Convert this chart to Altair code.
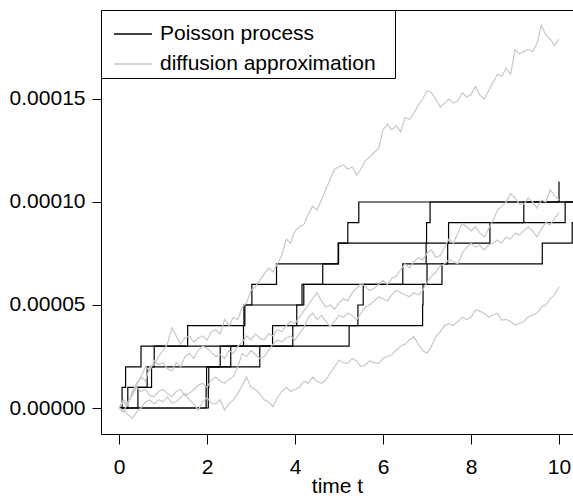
import altair as alt
import pandas as pd

UNIT = 1e-5  # size of one Poisson jump

# Poisson process sample paths: jump times (each jump adds UNIT)
jumps_a = [0.07, 0.15, 0.50, 1.56, 2.84, 3.02, 3.58, 4.98, 5.20, 5.45, 10.00]
jumps_b = [0.20, 0.64, 0.80, 2.83, 2.86, 4.16, 4.63, 4.99, 6.99, 7.07]
jumps_c = [0.43, 0.74, 3.20, 5.23, 6.90, 6.91, 7.34, 9.62, 10.30]
jumps_d = [1.98, 1.99, 2.30, 3.49, 4.04, 4.20, 6.45, 6.98, 7.49, 9.20]
jumps_e = [2.03, 2.04, 2.54, 3.95, 5.43, 5.55, 7.00, 7.47, 8.43, 10.14]
path_end = [10.00, 10.60, 10.60, 10.60, 10.60]

# diffusion approximation paths, in units of 1e-5, sampled every 0.1 time units
diff_t = [round(0.1 * i, 1) for i in range(101)]
diff_1 = [0.0, 0.3, 0.1, 0.8, 1.2, 1.5, 1.3, 2.0, 2.1, 2.5,
          2.8, 3.1, 3.9, 3.5, 3.1, 3.4, 3.5, 3.2, 3.4, 3.5,
          3.3, 3.7, 3.8, 3.6, 4.3, 4.0, 4.4, 4.3, 4.9, 5.1,
          5.7, 5.9, 6.2, 6.5, 6.8, 6.6, 7.0, 7.4, 8.2, 8.0,
          8.6, 8.8, 8.9, 9.4, 9.8, 9.6, 10.1, 10.6, 11.1, 11.6,
          11.7, 11.8, 11.6, 11.7, 11.3, 11.6, 12.0, 12.2, 12.4, 12.6,
          13.5, 13.8, 13.5, 13.7, 13.4, 14.1, 14.0, 14.3, 14.7, 15.0,
          15.4, 15.3, 15.0, 14.6, 14.8, 15.0, 14.8, 14.9, 15.3, 15.1,
          15.2, 15.6, 15.2, 15.0, 15.4, 15.8, 16.2, 16.1, 16.5, 16.2,
          17.4, 17.2, 17.3, 17.4, 17.3, 17.7, 18.6, 18.1, 17.9, 17.6,
          17.9]
diff_2 = [0.0, 0.4, 0.2, 0.7, 1.1, 1.5, 2.0, 1.8, 2.3, 2.1,
          2.2, 1.9, 1.8, 2.2, 2.0, 2.5, 2.65, 2.4, 2.8, 3.0,
          2.9, 2.7, 2.5, 2.6, 2.4, 2.8, 2.65, 3.0, 3.2, 3.5,
          3.3, 3.6, 3.4, 3.3, 3.6, 3.5, 3.8, 3.7, 4.0, 4.2,
          4.1, 4.4, 4.7, 5.0, 5.3, 5.6, 5.2, 4.9, 5.0, 4.8,
          5.1, 5.3, 5.2, 5.6, 5.8, 6.05, 5.9, 5.7, 5.8, 6.0,
          6.2, 6.0, 6.3, 6.4, 6.7, 7.0, 6.8, 7.1, 7.3, 7.2,
          7.5, 7.67, 7.3, 7.4, 7.8, 8.2, 8.0, 8.5, 8.96, 8.8,
          8.6, 8.8, 8.5, 8.3, 8.7, 9.1, 9.6, 9.8, 10.0, 10.4,
          10.2, 9.9, 9.9, 10.2, 10.0, 9.7, 10.1, 10.0, 10.6, 10.3,
          10.1]
diff_3 = [0.0, -0.2, 0.3, 0.6, 1.0, 0.8, 0.9, 0.6, 0.55, 0.8,
          0.9, 0.7, 0.55, 0.8, 0.9, 0.6, 0.71, 0.9, 1.1, 1.2,
          1.0, 1.36, 1.5, 1.3, 1.2, 1.4, 1.52, 2.0, 2.65, 2.5,
          2.8, 2.6, 2.4, 2.5, 2.8, 3.1, 3.3, 3.2, 3.4, 3.5,
          3.3, 3.6, 3.9, 4.4, 4.6, 4.3, 4.5, 4.2, 3.95, 4.2,
          4.5, 4.4, 4.6, 4.5, 4.27, 4.6, 4.9, 5.0, 5.2, 5.4,
          5.3, 5.2, 5.5, 5.7, 5.6, 5.5, 5.4, 5.6, 5.5, 5.7,
          6.1, 6.4, 6.6, 6.9, 7.0, 7.2, 7.1, 7.0, 7.5, 7.8,
          8.0, 7.8, 7.9, 7.67, 7.9, 8.0, 8.16, 8.0, 8.3, 8.2,
          8.5, 8.4, 8.6, 8.8, 8.6, 8.3, 8.7, 9.0, 8.9, 9.2,
          9.5]
diff_4 = [0.0, -0.1, -0.3, -0.5, -0.2, 0.0, 0.3, 0.39, 0.2, 0.4,
          0.3, 0.55, 0.23, 0.3, 0.5, 0.71, 0.4, 0.2, -0.1, 0.3,
          0.5, 0.23, 0.2, 0.4, -0.1, 0.2, 0.39, 0.7, 1.1, 1.5,
          1.0, 0.9, 0.7, 0.4, 0.3, 0.06, 0.5, 0.8, 1.0, 0.8,
          0.9, 1.0, 1.3, 1.2, 1.5, 1.3, 1.2, 1.36, 1.7, 2.0,
          2.33, 2.2, 2.17, 2.4, 2.3, 2.0, 2.1, 2.3, 2.2, 2.17,
          2.4, 2.5, 2.6, 2.8, 3.0, 3.1, 3.3, 3.46, 3.1, 2.8,
          2.65, 3.0, 3.46, 3.7, 4.0, 4.1, 4.0, 4.2, 4.4, 4.3,
          4.4, 4.76, 4.7, 4.6, 4.43, 4.5, 4.6, 4.27, 4.3, 4.2,
          4.03, 4.1, 4.2, 4.43, 4.5, 4.6, 4.9, 5.0, 5.3, 5.5,
          5.9]

SERIES = ["Poisson process", "diffusion approximation"]

rows_p = []
for pid, (jumps, t_end) in enumerate(
        zip([jumps_a, jumps_b, jumps_c, jumps_d, jumps_e], path_end)):
    rows_p.append({"path": f"p{pid}", "t": 0.0, "value": 0.0, "series": SERIES[0]})
    for k, tj in enumerate(jumps, start=1):
        rows_p.append({"path": f"p{pid}", "t": tj, "value": k * UNIT, "series": SERIES[0]})
    if t_end > jumps[-1]:
        rows_p.append({"path": f"p{pid}", "t": t_end, "value": len(jumps) * UNIT,
                       "series": SERIES[0]})
df_p = pd.DataFrame(rows_p)

rows_d = []
for pid, vals in enumerate([diff_1, diff_2, diff_3, diff_4]):
    for tt, vv in zip(diff_t, vals):
        rows_d.append({"path": f"d{pid}", "t": tt, "value": vv * UNIT, "series": SERIES[1]})
df_d = pd.DataFrame(rows_d)

FONT = "Liberation Sans"
x_scale = alt.Scale(domain=[-0.409, 10.318], nice=False, zero=False)
y_scale = alt.Scale(domain=[-1.262e-5, 1.932e-4], nice=False, zero=False)

color = alt.Color(
    "series:N",
    scale=alt.Scale(domain=SERIES, range=["#000000", "#c8c8c8"]),
    legend=alt.Legend(
        title=None, orient="top-left", offset=0, padding=4,
        strokeColor="black", fillColor="white",
        symbolType="stroke", symbolSize=1444, symbolStrokeWidth=1.3,
        symbolOffset=8,
        labelFont=FONT, labelFontSize=21, labelColor="black",
        labelOffset=7, labelLimit=500, rowPadding=-8,
        # blank braille cell keeps some room before the right edge of the box
        labelExpr="datum.label + '\u2800'",
    ),
)

y_enc = alt.Y(
    "value:Q", scale=y_scale,
    axis=alt.Axis(values=[0, 5e-5, 1e-4, 1.5e-4], format=".5f", title=None,
                  tickSize=9, labelPadding=7),
)

poisson = alt.Chart(df_p).mark_line(
    interpolate="step-after", clip=True, strokeWidth=1.2
).encode(
    x=alt.X("t:Q", scale=x_scale,
            axis=alt.Axis(values=[0, 2, 4, 6, 8, 10], format="d", title="time t",
                          tickSize=10, labelPadding=12, titlePadding=-2)),
    y=y_enc,
    color=color,
    detail="path:N",
)

diffusion = alt.Chart(df_d).mark_line(clip=True, strokeWidth=1.2).encode(
    x=alt.X("t:Q", scale=x_scale,
            axis=alt.Axis(orient="top", labels=False, ticks=False, title=None)),
    y=y_enc,
    color=color,
    detail="path:N",
)

chart = alt.layer(poisson, diffusion).resolve_axis(x="independent").properties(
    width=472, height=424,
    autosize=alt.AutoSizeParams(type="none"),
    padding={"left": 101, "top": 10, "right": 0, "bottom": 62},
).configure_view(stroke=None).configure_axis(
    grid=False, domainColor="black", domainWidth=1, tickColor="black",
    tickWidth=1, labelColor="black", labelFont=FONT, labelFontSize=21,
    titleFont=FONT, titleFontSize=21, titleFontWeight="normal", titleColor="black",
)

chart.save("out.html", embed_options={"renderer": "svg", "actions": False})
